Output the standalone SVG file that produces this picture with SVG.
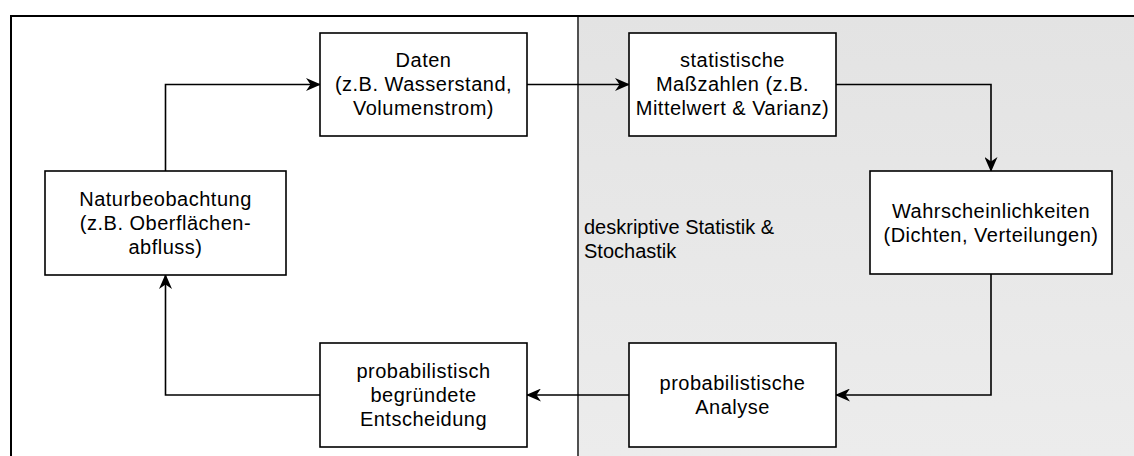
<svg xmlns="http://www.w3.org/2000/svg" width="1134" height="456" viewBox="0 0 1134 456">
  <style>
    .box { fill: #ffffff; stroke: #000000; stroke-width: 1.6; }
    .edge { fill: none; stroke: #000000; stroke-width: 1.6; }
    .lbl { font-family: "Liberation Sans", Arial, sans-serif; font-size: 20px; letter-spacing: 0.5px; fill: #000000; text-anchor: middle; }
    .zone { font-family: "Liberation Sans", Arial, sans-serif; font-size: 20px; fill: #000000; }
  </style>
  <defs>
    <marker id="arrow" viewBox="0 0 15 13" refX="14" refY="6.5" markerWidth="15" markerHeight="13" markerUnits="userSpaceOnUse" orient="auto">
      <path d="M0,0 L15,6.5 L0,13 L4.5,6.5 Z" fill="#000000"/>
    </marker>
    <linearGradient id="zoneFill" x1="0" y1="0" x2="0" y2="1">
      <stop offset="0" stop-color="#e3e3e3"/>
      <stop offset="1" stop-color="#ececec"/>
    </linearGradient>
  </defs>

  <rect x="0" y="0" width="1134" height="456" fill="#ffffff"/>

  <!-- statistics zone -->
  <g id="zone-statistik">
    <rect x="578" y="16" width="556" height="440" fill="url(#zoneFill)"/>
    <line x1="578" y1="16" x2="578" y2="456" stroke="#505050" stroke-width="2"/>
    <text class="zone" x="584" y="234">deskriptive Statistik &amp;</text>
    <text class="zone" x="584" y="258">Stochastik</text>
  </g>

  <!-- outer frame -->
  <path d="M11,456 V16 H1134" fill="none" stroke="#000000" stroke-width="2"/>

  <!-- connectors -->
  <g id="connectors">
    <path class="edge" d="M165.5,171 V84.5 H320" marker-end="url(#arrow)"/>
    <path class="edge" d="M527,84.5 H629" marker-end="url(#arrow)"/>
    <path class="edge" d="M836,84.5 H991 V171" marker-end="url(#arrow)"/>
    <path class="edge" d="M991,274 V395 H836" marker-end="url(#arrow)"/>
    <path class="edge" d="M629,395 H527" marker-end="url(#arrow)"/>
    <path class="edge" d="M320,395 H165.5 V275" marker-end="url(#arrow)"/>
  </g>

  <g id="naturbeobachtung">
    <rect class="box" x="45" y="171" width="241" height="104"/>
    <text class="lbl" x="165.5" y="206">Naturbeobachtung</text>
    <text class="lbl" x="165.5" y="230">(z.B. Oberflächen-</text>
    <text class="lbl" x="165.5" y="254">abfluss)</text>
  </g>

  <g id="daten">
    <rect class="box" x="320" y="33" width="207" height="103"/>
    <text class="lbl" x="423.5" y="67">Daten</text>
    <text class="lbl" x="423.5" y="91">(z.B. Wasserstand,</text>
    <text class="lbl" x="423.5" y="115">Volumenstrom)</text>
  </g>

  <g id="masszahlen">
    <rect class="box" x="629" y="33" width="207" height="103"/>
    <text class="lbl" x="732.5" y="67">statistische</text>
    <text class="lbl" x="732.5" y="91">Maßzahlen (z.B.</text>
    <text class="lbl" x="732.5" y="115">Mittelwert &amp; Varianz)</text>
  </g>

  <g id="wahrscheinlichkeiten">
    <rect class="box" x="870" y="171" width="242" height="103"/>
    <text class="lbl" x="991" y="218">Wahrscheinlichkeiten</text>
    <text class="lbl" x="991" y="242">(Dichten, Verteilungen)</text>
  </g>

  <g id="analyse">
    <rect class="box" x="629" y="343" width="207" height="104"/>
    <text class="lbl" x="732.5" y="390">probabilistische</text>
    <text class="lbl" x="732.5" y="414">Analyse</text>
  </g>

  <g id="entscheidung">
    <rect class="box" x="320" y="343" width="207" height="104"/>
    <text class="lbl" x="423.5" y="378">probabilistisch</text>
    <text class="lbl" x="423.5" y="402">begründete</text>
    <text class="lbl" x="423.5" y="426">Entscheidung</text>
  </g>
</svg>
